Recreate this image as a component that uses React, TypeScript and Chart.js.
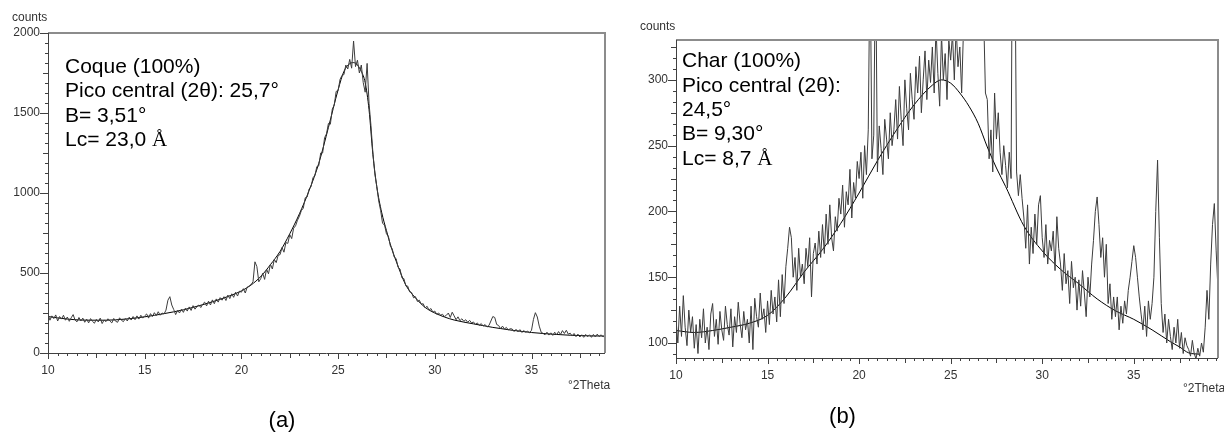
import React, { useEffect, useRef } from 'react';
import { Chart, registerables } from 'chart.js';

Chart.register(...registerables);

// ---------- DATA ----------
const X_START = 10;
const X_STEP = 0.1;

// (a) Coque – raw counts, 10.0 .. 38.8 °2θ, step 0.1
const coqueRaw = [
  240, 205, 232, 215, 238, 200, 228, 212, 236, 205,
  225, 198, 220, 240, 206, 195, 222, 200, 218, 192,
  212, 188, 215, 198, 186, 210, 194, 218, 184, 206,
  196, 214, 200, 188, 216, 198, 192, 220, 204, 196,
  216, 200, 224, 206, 228, 208, 232, 212, 236, 218,
  232, 244, 218, 246, 228, 252, 234, 258, 236, 250,
  244, 268, 330, 352, 300, 272, 240, 266, 250, 274,
  254, 280, 262, 288, 266, 296, 274, 290, 300, 284,
  306, 318, 294, 324, 300, 332, 308, 338, 318, 346,
  330, 352, 328, 362, 340, 370, 348, 380, 356, 386,
  380, 402, 375, 412, 418, 428, 445, 570, 540, 445,
  465, 498, 460, 525, 495, 555, 525, 585, 565, 610,
  615, 660, 630, 690, 685, 740, 715, 780, 795, 830,
  855, 890, 905, 970, 975, 1025, 1040, 1095, 1110, 1165,
  1170, 1250, 1250, 1345, 1370, 1435, 1430, 1525, 1550, 1635,
  1640, 1710, 1735, 1740, 1800, 1775, 1835, 1780, 1950, 1790,
  1830, 1750, 1800, 1690, 1630, 1810, 1560, 1420, 1250, 1120,
  1040, 950, 890, 810, 800, 745, 730, 670, 650, 600,
  590, 535, 525, 470, 465, 420, 418, 382, 378, 345,
  352, 322, 330, 305, 308, 282, 292, 268, 278, 255,
  262, 242, 250, 236, 242, 228, 236, 250, 222, 255,
  232, 208, 226, 202, 214, 198, 208, 192, 204, 188,
  194, 178, 188, 172, 184, 168, 178, 162, 172, 200,
  228, 222, 178, 172, 152, 168, 150, 160, 144, 152,
  150, 134, 148, 132, 146, 128, 140, 130, 136, 126,
  142, 210, 252, 225, 168, 130, 122, 114, 130, 112,
  126, 110, 130, 114, 134, 116, 140, 122, 142, 118,
  124, 106, 122, 102, 118, 100, 114, 98, 116, 102,
  114, 98, 116, 100, 118, 102, 114, 100, 112,
];

// (a) Coque – fitted profile
const coqueFitX = [10, 11, 12, 13, 14, 15, 16, 17, 18, 19, 20, 20.5, 21, 21.5, 22, 22.5, 23, 23.5, 24, 24.5, 25, 25.3, 25.6, 25.8, 26, 26.2, 26.4, 26.6, 26.8, 27, 27.25, 27.5, 27.75, 28, 28.5, 29, 29.5, 30, 30.5, 31, 32, 33, 34, 35, 36, 37, 38, 38.8];
const coqueFitY = [228, 212, 205, 205, 212, 226, 246, 270, 302, 340, 388, 425, 478, 552, 635, 745, 870, 1015, 1185, 1410, 1645, 1760, 1808, 1815, 1800, 1760, 1690, 1520, 1240, 1040, 880, 765, 660, 575, 425, 345, 285, 250, 225, 206, 182, 160, 142, 128, 118, 111, 107, 106];

// (b) Char – raw counts, 10.0 .. 39.6 °2θ, step 0.1
const charRaw = [
  118, 100, 128, 105, 136, 112, 98, 125, 108, 120,
  96, 114, 92, 118, 104, 126, 100, 112, 95, 122,
  130, 105, 118, 99, 124, 110, 102, 128, 114, 106,
  126, 97, 120, 108, 131, 115, 104, 124, 110, 118,
  100, 128, 95, 134, 120, 112, 138, 118, 126, 108,
  132, 114, 140, 122, 135, 116, 148, 120, 152, 130,
  158, 172, 188, 180, 150, 165, 140, 172, 150, 160,
  145, 172, 158, 180, 135, 168, 176, 160, 185, 165,
  190, 168, 198, 175, 205, 180, 170, 196, 185, 210,
  198, 220, 188, 215, 205, 232, 195, 222, 210, 238,
  225, 245, 210, 250, 228, 262, 400, 240, 258, 400,
  230, 265, 248, 228, 270, 255, 240, 275, 250, 262,
  285, 255, 295, 270, 250, 300, 278, 262, 305, 285,
  270, 310, 290, 318, 275, 300, 322, 285, 315, 298,
  325, 290, 340, 305, 280, 335, 300, 320, 285, 330,
  315, 335, 300, 340, 310, 325, 290, 338, 360, 390,
  400, 380, 450, 410, 480, 430, 390, 370, 350, 290,
  285, 240, 262, 230, 290, 255, 275, 245, 228, 250,
  235, 218, 245, 225, 500, 420, 230, 212, 228, 210,
  195, 172, 205, 160, 188, 168, 198, 175, 205, 212,
  180, 165, 190, 160, 178, 170, 185, 155, 196, 172,
  160, 140, 168, 145, 155, 130, 162, 142, 150, 125,
  148, 128, 155, 138, 120, 150, 135, 160, 178, 200,
  211, 190, 165, 180, 150, 175, 130, 145, 118, 135,
  120, 135, 110, 128, 115, 132, 122, 140, 150, 162,
  174, 165, 150, 135, 122, 110, 128, 105, 132, 118,
  130, 150, 200, 239, 180, 130, 108, 122, 100, 118,
  105, 95, 112, 100, 118, 96, 108, 92, 104, 98,
  95, 90, 102, 92, 88, 96, 90, 100, 93, 112,
  140, 118, 160, 190, 206, 170, 140,
];

// (b) Char – fitted profile
const charFitX = [10, 11, 12, 13, 14, 15, 16, 17, 18, 19, 20, 21, 22, 23, 24, 24.5, 25, 25.5, 26, 26.5, 27, 27.5, 28, 29, 30, 31, 32, 33, 34, 35, 36, 37, 37.5, 38, 38.6];
const charFitY = [109.5, 108, 109.5, 112, 115, 121, 135, 154, 171, 191, 214, 238.5, 261, 281, 296, 300, 297.5, 290, 280, 267, 249, 233, 219, 189, 170, 156, 145, 133.5, 124.5, 118, 110, 101, 97, 92.5, 91.5];

// tick labels
const coqueXTicks = [10, 15, 20, 25, 30, 35];
const coqueYTicks = [0, 500, 1000, 1500, 2000];
const charXTicks = [10, 15, 20, 25, 30, 35];
const charYTicks = [100, 150, 200, 250, 300];

const coqueText = ['Coque (100%)', 'Pico central (2θ): 25,7°', 'B= 3,51°', 'Lc= 23,0 '];
const charText = ['Char (100%)', 'Pico central (2θ):', '24,5°', 'B= 9,30°', 'Lc= 8,7 '];
const ANGSTROM = 'Å';

// ---------- COMPONENT ----------
type Cfg = {
  left: number;
  width: number;
  raw: number[];
  fitX: number[];
  fitY: number[];
  xMin: number; xMax: number; yMin: number; yMax: number;
  xTicks: number[]; yTicks: number[];
  yMinorStep: number; yMinorPerMajor: number; yMinorStart: number;
  padTop: number; padRight: number; yAxisW: number; xAxisH: number;
  lines: string[]; textX: number; textBase: number[];
  countsX: number; countsBase: number;
  thetaX: number; thetaBase: number;
  tag: string; tagX: number; tagBase: number;
};

const sans = '"Liberation Sans", Arial, sans-serif';
const serif = '"Liberation Serif", "Times New Roman", serif';

function XrdChart({ cfg }: { cfg: Cfg }) {
  const ref = useRef<HTMLCanvasElement | null>(null);
  useEffect(() => {
    if (!ref.current) return;
    const rawPts = cfg.raw.map((y, i) => ({ x: X_START + i * X_STEP, y }));
    const fitPts = cfg.fitX.map((x, i) => ({ x, y: cfg.fitY[i] }));

    const decor = {
      id: 'decor',
      afterDraw(chart: any) {
        const { ctx, chartArea: a, scales } = chart;
        const xs = scales.x;
        const ys = scales.y;
        ctx.save();
        // frame: top & right gray
        ctx.strokeStyle = '#8c8c8c';
        ctx.lineWidth = 2;
        ctx.beginPath();
        ctx.moveTo(a.left, a.top);
        ctx.lineTo(a.right, a.top);
        ctx.lineTo(a.right, a.bottom);
        ctx.stroke();
        // axes left & bottom
        ctx.strokeStyle = '#404040';
        ctx.lineWidth = 1;
        ctx.beginPath();
        ctx.moveTo(Math.round(a.left) + 0.5, a.top);
        ctx.lineTo(Math.round(a.left) + 0.5, a.bottom + 1);
        ctx.moveTo(a.left, Math.round(a.bottom) + 0.5);
        ctx.lineTo(a.right, Math.round(a.bottom) + 0.5);
        // x ticks every 0.5
        for (let k = 0; ; k++) {
          const v = cfg.xMin + k * 0.5;
          if (v > cfg.xMax + 1e-6) break;
          const len = k % 10 === 0 ? 6 : k % 5 === 0 ? 5 : 3;
          const p = Math.round(xs.getPixelForValue(v)) + 0.5;
          ctx.moveTo(p, a.bottom);
          ctx.lineTo(p, a.bottom + len);
        }
        // y ticks
        const per = cfg.yMinorPerMajor;
        const offset = Math.round((cfg.yTicks[0] - cfg.yMinorStart) / cfg.yMinorStep);
        for (let k = 0; ; k++) {
          const v = cfg.yMinorStart + k * cfg.yMinorStep;
          if (v > cfg.yMax + 1e-6) break;
          const r = ((k - offset) % per + per) % per;
          const len = r === 0 ? 8 : r === per / 2 ? 5 : 3;
          const p = Math.round(ys.getPixelForValue(v)) + 0.5;
          ctx.moveTo(a.left, p);
          ctx.lineTo(a.left - len, p);
        }
        ctx.stroke();

        // texts
        ctx.fillStyle = '#000';
        ctx.textBaseline = 'alphabetic';
        ctx.textAlign = 'left';
        cfg.lines.forEach((t, i) => {
          ctx.font = '21px ' + sans;
          ctx.fillText(t, cfg.textX, cfg.textBase[i]);
          if (i === cfg.lines.length - 1) {
            const w = ctx.measureText(t).width;
            ctx.font = '21px ' + serif;
            ctx.fillText(ANGSTROM, cfg.textX + w, cfg.textBase[i]);
          }
        });
        ctx.fillStyle = '#333';
        ctx.font = '12px ' + sans;
        ctx.fillText('counts', cfg.countsX, cfg.countsBase);
        ctx.fillText('°2Theta', cfg.thetaX, cfg.thetaBase);
        ctx.fillStyle = '#000';
        ctx.font = '22px ' + sans;
        ctx.textAlign = 'center';
        ctx.fillText(cfg.tag, cfg.tagX, cfg.tagBase);
        ctx.restore();
      },
    };

    const chart = new Chart(ref.current, {
      type: 'line',
      data: {
        datasets: [
          {
            data: rawPts,
            borderColor: '#3c3c3c',
            borderWidth: 1,
            pointRadius: 0,
            tension: 0,
            fill: false,
          },
          {
            data: fitPts,
            borderColor: '#000000',
            borderWidth: 1,
            pointRadius: 0,
            cubicInterpolationMode: 'monotone',
            fill: false,
          },
        ],
      },
      options: {
        responsive: false,
        animation: false,
        events: [],
        layout: { padding: { left: 0, top: cfg.padTop, right: cfg.padRight, bottom: 0 } },
        plugins: { legend: { display: false }, tooltip: { enabled: false }, title: { display: false } },
        scales: {
          x: {
            type: 'linear',
            min: cfg.xMin,
            max: cfg.xMax,
            grid: { display: false, drawTicks: false },
            border: { display: false },
            ticks: {
              padding: 10,
              color: '#333',
              font: { family: sans, size: 12 },
              maxRotation: 0,
              autoSkip: false,
              callback: (v: any) => String(v),
            },
            afterBuildTicks: (s: any) => {
              s.ticks = cfg.xTicks.map((v) => ({ value: v }));
            },
            afterFit: (s: any) => {
              s.height = cfg.xAxisH;
            },
          },
          y: {
            type: 'linear',
            min: cfg.yMin,
            max: cfg.yMax,
            grid: { display: false, drawTicks: false },
            border: { display: false },
            ticks: {
              padding: 8,
              color: '#333',
              font: { family: sans, size: 12 },
              autoSkip: false,
              callback: (v: any) => String(v),
            },
            afterBuildTicks: (s: any) => {
              s.ticks = cfg.yTicks.map((v) => ({ value: v }));
            },
            afterFit: (s: any) => {
              s.width = cfg.yAxisW;
            },
          },
        },
      } as any,
      plugins: [decor],
    });
    return () => chart.destroy();
  }, [cfg]);

  return (
    <div style={{ position: 'absolute', left: cfg.left, top: 0, width: cfg.width, height: 432 }}>
      <canvas ref={ref} width={cfg.width} height={432} style={{ display: 'block' }} />
    </div>
  );
}

const coqueCfg: Cfg = {
  left: 0,
  width: 620,
  raw: coqueRaw,
  fitX: coqueFitX,
  fitY: coqueFitY,
  xMin: 10, xMax: 38.8, yMin: 0, yMax: 2000,
  xTicks: coqueXTicks, yTicks: coqueYTicks,
  yMinorStep: 62.5, yMinorPerMajor: 8, yMinorStart: 0,
  padTop: 33, padRight: 15, yAxisW: 48, xAxisH: 79,
  lines: coqueText, textX: 65, textBase: [73, 97, 122, 146],
  countsX: 12, countsBase: 21,
  thetaX: 568, thetaBase: 389,
  tag: '(a)', tagX: 282, tagBase: 427,
};

const charCfg: Cfg = {
  left: 620,
  width: 604,
  raw: charRaw,
  fitX: charFitX,
  fitY: charFitY,
  xMin: 10, xMax: 39.6, yMin: 88.6, yMax: 330.3,
  xTicks: charXTicks, yTicks: charYTicks,
  yMinorStep: 50 / 6, yMinorPerMajor: 6, yMinorStart: 100 - 50 / 6,
  padTop: 40, padRight: 6, yAxisW: 56, xAxisH: 74,
  lines: charText, textX: 62, textBase: [67, 92, 116, 140, 165],
  countsX: 20, countsBase: 30,
  thetaX: 563, thetaBase: 392,
  tag: '(b)', tagX: 222.5, tagBase: 423,
};

export default function App() {
  return (
    <div style={{ position: 'absolute', left: 0, top: 0, width: 1224, height: 432, background: '#fff', overflow: 'hidden' }}>
      <XrdChart cfg={coqueCfg} />
      <XrdChart cfg={charCfg} />
    </div>
  );
}
